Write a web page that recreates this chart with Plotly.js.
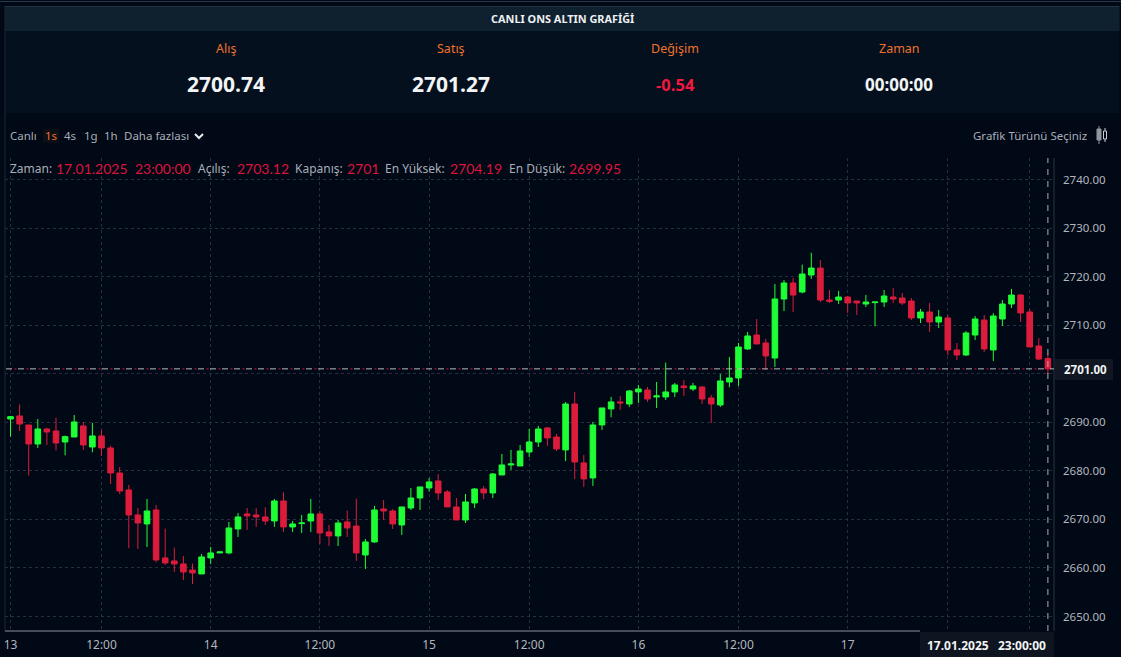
<!DOCTYPE html>
<html><head><meta charset="utf-8">
<script src="https://cdn.plot.ly/plotly-3.0.1.min.js"></script>
<style>html,body{margin:0;padding:0;background:#010816;overflow:hidden}</style>
</head><body><div id="chart" style="width:1121px;height:657px"></div>
<script>
const opens=[2690.68,2691.30,2689.44,2685.53,2688.62,2688.21,2685.94,2686.97,2689.24,2684.91,2687.18,2684.71,2679.56,2676.06,2670.91,2669.06,2671.94,2662.06,2661.44,2660.82,2659.58,2658.76,2662.06,2663.09,2663.09,2668.03,2671.12,2670.91,2670.50,2669.67,2673.79,2668.44,2669.13,2669.67,2671.12,2667.41,2666.59,2669.47,2668.64,2662.67,2665.35,2672.15,2671.73,2668.85,2672.35,2674.41,2676.47,2677.91,2675.65,2672.56,2669.88,2673.38,2676.26,2675.44,2679.15,2681.21,2681.00,2683.88,2685.94,2688.83,2686.97,2684.30,2693.77,2681.63,2678.54,2689.45,2692.75,2694.19,2693.77,2696.25,2696.66,2695.22,2695.22,2696.25,2697.48,2696.86,2697.27,2695.01,2693.57,2698.30,2699.13,2705.10,2707.98,2706.34,2703.24,2715.39,2718.69,2716.83,2720.33,2721.77,2715.18,2715.18,2715.80,2714.98,2714.36,2714.64,2714.77,2715.80,2715.60,2714.98,2711.48,2712.71,2710.65,2711.48,2704.89,2703.86,2707.98,2711.07,2704.89,2711.27,2714.36,2716.21,2712.71,2705.71,2703.12];
const highs=[2691.30,2693.70,2689.44,2690.68,2688.89,2690.95,2687.25,2691.50,2690.06,2689.86,2688.41,2685.19,2680.79,2677.09,2672.35,2674.21,2672.97,2668.10,2664.18,2662.47,2660.89,2662.88,2664.32,2663.35,2669.47,2671.32,2672.35,2672.35,2672.49,2674.21,2675.58,2669.67,2670.91,2674.21,2671.73,2668.85,2669.88,2671.80,2674.27,2665.97,2672.76,2674.00,2672.15,2672.56,2676.47,2676.68,2678.53,2679.35,2676.06,2674.41,2675.23,2676.47,2676.88,2679.56,2683.47,2684.30,2685.33,2688.62,2689.24,2689.03,2687.59,2694.18,2696.24,2683.27,2690.07,2692.95,2695.22,2695.42,2696.66,2697.69,2697.27,2698.30,2702.29,2698.10,2698.72,2698.10,2697.48,2695.63,2699.95,2703.45,2706.34,2708.60,2711.28,2707.16,2718.48,2719.30,2719.71,2722.46,2724.93,2723.42,2717.24,2717.04,2716.01,2714.98,2716.21,2714.77,2717.24,2717.66,2716.63,2715.60,2713.33,2714.57,2713.13,2712.10,2706.33,2708.80,2711.89,2712.10,2712.51,2715.18,2717.45,2716.42,2713.33,2707.36,2704.19];
const lows=[2687.04,2688.21,2679.01,2684.71,2685.33,2684.23,2683.20,2686.97,2684.30,2683.82,2683.06,2677.29,2675.23,2664.05,2663.91,2664.32,2661.16,2660.62,2659.17,2657.53,2656.70,2658.76,2660.82,2663.05,2662.81,2666.38,2667.82,2668.44,2668.85,2668.44,2667.41,2667.41,2667.20,2667.41,2664.94,2664.53,2664.53,2666.38,2661.44,2659.79,2665.15,2669.88,2668.03,2666.79,2671.94,2671.94,2675.72,2674.00,2672.56,2669.88,2669.26,2672.35,2674.14,2674.41,2679.15,2680.18,2681.00,2682.85,2684.91,2685.12,2684.09,2682.03,2678.32,2676.68,2676.89,2688.42,2691.03,2692.54,2693.16,2693.98,2694.19,2692.95,2694.60,2695.22,2695.42,2696.45,2693.77,2689.86,2693.16,2697.21,2697.48,2704.90,2706.13,2700.78,2701.39,2712.92,2712.71,2716.56,2719.51,2714.77,2714.57,2714.36,2712.51,2712.10,2713.74,2709.76,2713.74,2714.57,2714.16,2711.07,2710.45,2708.60,2709.42,2703.86,2702.83,2703.65,2706.95,2704.48,2702.62,2709.83,2713.54,2710.65,2705.51,2702.83,2699.95];
const closes=[2691.16,2689.65,2685.53,2688.62,2688.00,2685.74,2687.04,2690.06,2685.33,2687.18,2684.71,2679.56,2675.85,2670.91,2669.26,2671.73,2661.64,2661.03,2660.82,2659.17,2658.97,2662.26,2663.09,2663.29,2668.23,2670.50,2670.71,2670.50,2669.67,2673.79,2668.44,2669.06,2669.26,2671.12,2667.20,2666.59,2669.26,2668.23,2663.09,2665.35,2671.94,2671.73,2669.06,2672.56,2674.41,2676.68,2677.71,2675.44,2672.56,2669.88,2673.59,2676.26,2675.44,2679.35,2681.21,2681.41,2684.09,2685.94,2688.62,2686.77,2684.50,2693.77,2681.82,2678.33,2689.45,2692.95,2694.19,2693.98,2696.45,2696.86,2694.80,2695.42,2696.25,2697.69,2697.14,2697.48,2694.80,2693.77,2698.51,2699.13,2705.51,2707.78,2706.13,2703.66,2715.39,2718.69,2716.21,2720.54,2721.77,2715.18,2714.91,2715.80,2714.57,2714.57,2714.77,2714.77,2716.01,2715.39,2714.57,2711.48,2712.71,2710.65,2711.68,2704.89,2703.86,2708.39,2711.27,2705.10,2711.89,2714.36,2716.21,2712.51,2705.51,2703.03,2701.00];
const tickPositions=[0,10,22,34,46,57,69,80,92,103,112];
const tickLabels=["13","12:00","14","12:00","15","12:00","16","12:00","17","",""];
const priceTicks=[2650,2660,2670,2680,2690,2700,2710,2720,2730,2740];
const lastClose=2701;
const lastIndex=114;

const PL=5,PR=1054,PT=158,PB=631;
const px=x=>(x-PL)/(PR-PL), py=y=>(PB-y)/(PB-PT);
const GRID='#262f3e';
const numFont='"Lato"', txtFont='"Noto Sans"';
function T(text,x,y,color,size,opts={}){
  return Object.assign({text,x:px(x),y:py(y),xref:'paper',yref:'paper',xanchor:opts.a||'center',yanchor:'middle',
    showarrow:false,font:{family:opts.f||txtFont,size,color},captureevents:false,borderpad:0},opts.extra||{});
}
function R(x0,y0,x1,y1,fill,line,layer){
  return {type:'rect',xref:'paper',yref:'paper',x0:px(x0),y0:py(y0),x1:px(x1),y1:py(y1),fillcolor:fill,
    line:line?{color:line,width:1}:{width:0},layer:layer||'above'};
}
function H(x0,x1,y,color,w){return {type:'line',xref:'paper',yref:'paper',x0:px(x0),x1:px(x1),y0:py(y),y1:py(y),line:{color,width:w||1},layer:'above'};}
function V(x,y0,y1,color,w){return {type:'line',xref:'paper',yref:'paper',x0:px(x),x1:px(x),y0:py(y0),y1:py(y1),line:{color,width:w||1},layer:'above'};}

const ORANGE='#f0722c',RED='#dc143c',GREY='#a9aeb6',WHITE='#f2f4f5';
const annotations=[
 T('<b>CANLI ONS ALTIN GRAFİĞİ</b>',562.5,18,'#eef1f3',10.9,{f:'"Noto Sans"'}),
 T('Alış',226,48,ORANGE,12.5),T('Satış',451,48,ORANGE,12.5),T('Değişim',675,48,ORANGE,12.5),T('Zaman',899,48,ORANGE,12.5),
 T('<b>2700.74</b>',226,84.5,WHITE,21,{f:'"Open Sans"'}),T('<b>2701.27</b>',451,84.5,WHITE,21,{f:'"Open Sans"'}),
 T('<b>-0.54</b>',675,84.5,'#f0183f',16.5,{f:'"Open Sans"'}),T('<b>00:00:00</b>',899,84.5,WHITE,17,{f:'"Open Sans"'}),
 T('Canlı',9,136,GREY,11.5,{a:'left'}),T('1s',44,136,ORANGE,11.5,{a:'left'}),T('4s',63,136,GREY,11.5,{a:'left'}),
 T('1g',83,136,GREY,11.5,{a:'left'}),T('1h',103,136,GREY,11.5,{a:'left'}),T('Daha fazlası',123,136,GREY,11.5,{a:'left'}),
 T('Grafik Türünü Seçiniz',1088,136,GREY,11.5,{a:'right'}),
 T('Zaman:',9,168,GREY,12,{a:'left'}),T('17.01.2025',55,168,RED,14,{a:'left',f:numFont}),T('23:00:00',134,168,RED,14,{a:'left',f:numFont}),
 T('Açılış:',197,168,GREY,12,{a:'left'}),T('2703.12',236,168,RED,14,{a:'left',f:numFont}),
 T('Kapanış:',294,168,GREY,12,{a:'left'}),T('2701',346,168,RED,14,{a:'left',f:numFont}),
 T('En Yüksek:',384,168,GREY,12,{a:'left'}),T('2704.19',449,168,RED,14,{a:'left',f:numFont}),
 T('En Düşük:',508,168,GREY,12,{a:'left'}),T('2699.95',568,168,RED,14,{a:'left',f:numFont}),
 T('<b>'+lastClose.toFixed(2)+'</b>',1085,369.5,WHITE,11.5),
 T('<b>17.01.2025</b>',958,645,WHITE,12),T('<b>23:00:00</b>',1022,645,WHITE,12),
];
const shapes=[
 H(0,1121,1.5,'#26384a'),
 R(5,6.5,1119.5,113,'#04101d',null,'below'),
 R(5,7,1119.5,31,'#0f202e',null,'below'),
 H(5,1119.5,6.5,'#223244'),
 V(5,6,631,'#1c2735'),
 H(5,920,631,'#8b929c'),
 V(PR,158,631,'#2a3442'),
 // price crosshair
 {type:'line',xref:'paper',yref:'y',x0:px(6),x1:px(1054),y0:lastClose,y1:lastClose,line:{color:'#b8bbc0',width:1,dash:'6px,6px'},layer:'above'},
 {type:'line',xref:'paper',yref:'y',x0:px(14.5),x1:px(1054),y0:lastClose,y1:lastClose,line:{color:RED,width:1,dash:'2px,10px'},layer:'above'},
 {type:'line',xref:'x',yref:'paper',x0:lastIndex,x1:lastIndex,y0:0,y1:1,line:{color:'#a9aeb6',width:1,dash:'6px,6px'},layer:'above'},
 R(1055,359,1113,380,'#111722',null),
 R(920,632,1054,657,'#0e1420',null),
 // chevron
 {type:'path',xref:'paper',yref:'paper',path:`M ${px(195)} ${py(134)} L ${px(199)} ${py(138)} L ${px(203)} ${py(134)}`,line:{color:'#e8eaec',width:2},layer:'above'},
 // candle icon
 V(1099,126,144,'#8f96a0'),R(1097,129,1101,140,'#8f96a0','#8f96a0'),
 V(1105,128,142,'#c7cbd1'),R(1103.5,131,1106.5,139,'#010816','#c7cbd1'),
 R(43,129,59,143,'rgba(240,114,44,0.06)',null),
];
const trace={type:'candlestick',x:opens.map((_,i)=>i),open:opens,high:highs,low:lows,close:closes,
 increasing:{line:{color:'#1eff36',width:1},fillcolor:'#1eff36'},
 decreasing:{line:{color:'#dc1c3c',width:1},fillcolor:'#dc1c3c'},whiskerwidth:0,hoverinfo:'skip'};
const layout={width:1121,height:657,margin:{l:PL,r:1121-PR,t:PT,b:657-PB,pad:0},showlegend:false,
 paper_bgcolor:'#010816',plot_bgcolor:'#010816',boxgap:0.12,
 xaxis:{range:[-0.604,114.67],rangeslider:{visible:false},tickmode:'array',tickvals:tickPositions,ticktext:tickLabels,ticks:'',
  showgrid:true,gridcolor:GRID,griddash:'3px,3px',gridwidth:1,zeroline:false,showline:false,ticklabelstandoff:5,
  tickfont:{family:txtFont,size:12,color:'#b3b7bd'},ticklabeloverflow:'allow'},
 yaxis:{range:[2647.01,2744.43],side:'right',tickmode:'array',tickvals:priceTicks,ticktext:priceTicks.map(v=>v===2700?'':v.toFixed(2)),ticks:'',
  showgrid:true,gridcolor:GRID,griddash:'3px,3px',gridwidth:1,zeroline:false,showline:false,automargin:false,ticklabelstandoff:8,
  tickfont:{family:txtFont,size:11.5,color:'#b3b7bd'}},
 annotations,shapes};
Plotly.newPlot('chart',[trace],layout,{staticPlot:true,displayModeBar:false});
</script></body></html>
